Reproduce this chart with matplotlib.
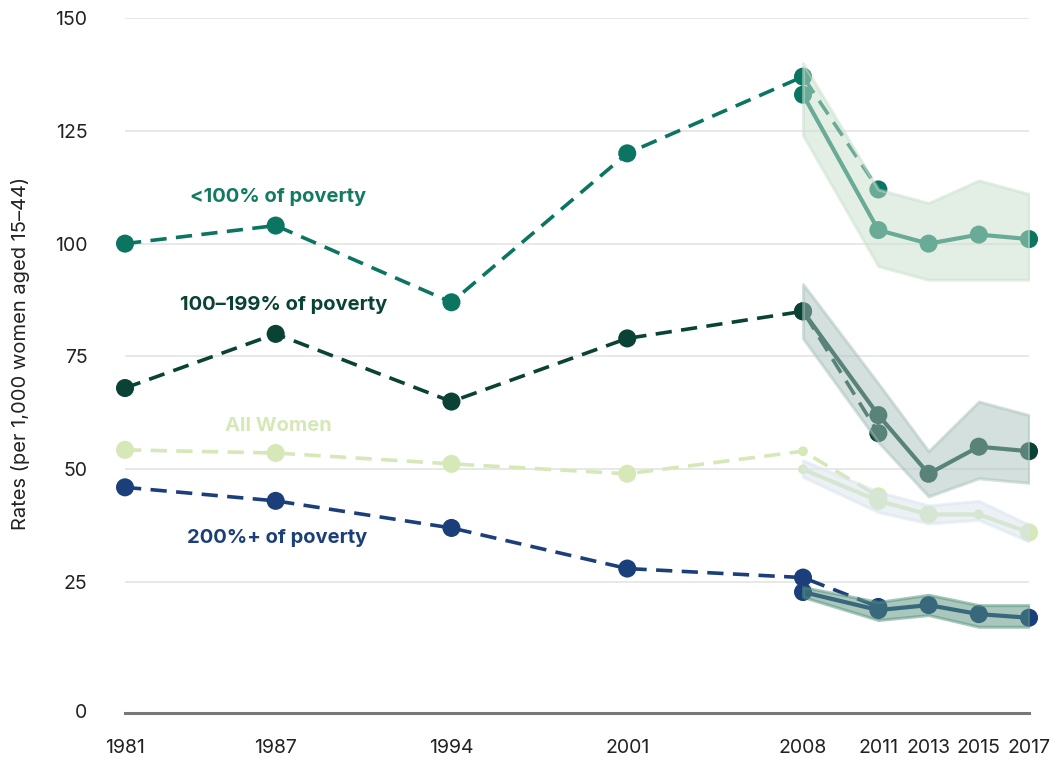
import matplotlib
matplotlib.use("Agg")
import matplotlib.pyplot as plt
import numpy as np

# ---------------- data ----------------
years_old = [1981, 1987, 1994, 2001, 2008, 2011]
years_new = [2008, 2011, 2013, 2015, 2017]
xtick_years = [1981, 1987, 1994, 2001, 2008, 2011, 2013, 2015, 2017]
ytick_vals = [0, 25, 50, 75, 100, 125, 150]

pov100_old = [100, 104, 87, 120, 137, 112]
pov100_new = [133, 103, 100, 102, 101]
pov100_hi = [140, 112, 109, 114, 111]
pov100_lo = [124, 95, 92, 92, 92]

pov199_old = [68, 80, 65, 79, 85, 58]
pov199_new = [85, 62, 49, 55, 54]
pov199_hi = [91, 69, 54, 65, 62]
pov199_lo = [79, 56, 44, 48, 47]

all_old = [54.3, 53.6, 51.2, 49, 54, 44]
all_new = [50, 43, 40, 40, 36]
all_hi = [52, 45, 42, 43, 37.7]
all_lo = [48.3, 40.5, 38, 38.8, 34]

pov200_old = [46, 43, 37, 28, 26, 19.5]
pov200_new = [22.8, 18.8, 19.9, 17.9, 17.1]
pov200_hi = [23.9, 20.6, 22.2, 19.9, 19.9]
pov200_lo = [21.7, 16.6, 17.7, 15.1, 15.1]

labels = ["<100% of poverty", "100–199% of poverty", "All Women", "200%+ of poverty"]

# ---------------- style ----------------
FONT = ["Inter", "DejaVu Sans"]
plt.rcParams["font.family"] = FONT

c100 = "#0b7561"
c199 = "#0a4236"
call = "#d6e8b8"
c200 = "#1b3f7a"

band100 = "#c9e1cd"
band199 = "#a9c3bd"
bandall = "#d9e5ed"
band200 = "#55917d"

BIG = 13
SMALL = 7

fig = plt.figure(figsize=(10.54, 7.58), dpi=100)
ax = fig.add_axes([0.1186, 0.0594, 0.8577, 0.9169])
ax.set_xlim(1981, 2017)
ax.set_ylim(-4, 150)

series = [
    (pov100_old, pov100_new, pov100_hi, pov100_lo, c100, band100,
     [BIG] * 6, [BIG] * 5),
    (pov199_old, pov199_new, pov199_hi, pov199_lo, c199, band199,
     [BIG] * 6, [BIG] * 5),
    (all_old, all_new, all_hi, all_lo, call, bandall,
     [BIG, BIG, BIG, BIG, SMALL, BIG], [SMALL, BIG, BIG, SMALL, BIG]),
    (pov200_old, pov200_new, pov200_hi, pov200_lo, c200, band200,
     [BIG] * 6, [BIG] * 5),
]

# lines first (full colour)
for old, new, hi, lo, col, bcol, ms_old, ms_new in series:
    ax.plot(years_old, old, color=col, lw=2.6, dashes=(4.5, 2.6),
            dash_capstyle="butt", zorder=3, clip_on=False)
    ax.scatter(years_old, old, s=np.array(ms_old) ** 2, color=col,
               zorder=4, clip_on=False, linewidths=0)
    ax.plot(years_new, new, color=col, lw=3, zorder=3, clip_on=False)
    ax.scatter(years_new, new, s=np.array(ms_new) ** 2, color=col,
               zorder=4, clip_on=False, linewidths=0)

# confidence bands drawn on top, semi-transparent
for old, new, hi, lo, col, bcol, ms_old, ms_new in series:
    ax.fill_between(years_new, lo, hi, color=bcol, alpha=0.5,
                    edgecolor=bcol, linewidth=2.2, zorder=5)

# series labels
label_pos = [(1987.1, 110.3), (1987.3, 86.4), (1987.1, 59.6), (1987.05, 34.8)]
label_cols = ["#137a62", c199, call, c200]
for txt, (x, y), col in zip(labels, label_pos, label_cols):
    ax.text(x, y, txt, color=col, fontsize=14.5, fontweight="bold",
            ha="center", va="center", zorder=6)

# axes styling
ax.set_yticks(ytick_vals[1:])
ax.set_yticklabels([str(v) for v in ytick_vals[1:]])
ax.text(-0.042, -4, str(ytick_vals[0]), transform=ax.get_yaxis_transform(),
        ha="right", va="center", fontsize=14, color="#222222")
ax.set_xticks(xtick_years)
ax.set_xticklabels([str(y) for y in xtick_years])
ax.tick_params(axis="y", length=0, pad=27, labelsize=14, labelcolor="#222222")
ax.tick_params(axis="x", length=0, pad=19, labelsize=14, labelcolor="#222222")
ax.yaxis.grid(True, color="#e6e6e6", lw=1.3, zorder=0)
ax.set_axisbelow(True)
for s in ["top", "right", "left"]:
    ax.spines[s].set_visible(False)
ax.spines["bottom"].set_color("#777777")
ax.spines["bottom"].set_linewidth(2.2)

fig.text(0.019, 0.534, "Rates (per 1,000 women aged 15–44)", rotation=90,
         ha="center", va="center", fontsize=14.5, color="#222222")

fig.savefig("out.png", dpi=100)
